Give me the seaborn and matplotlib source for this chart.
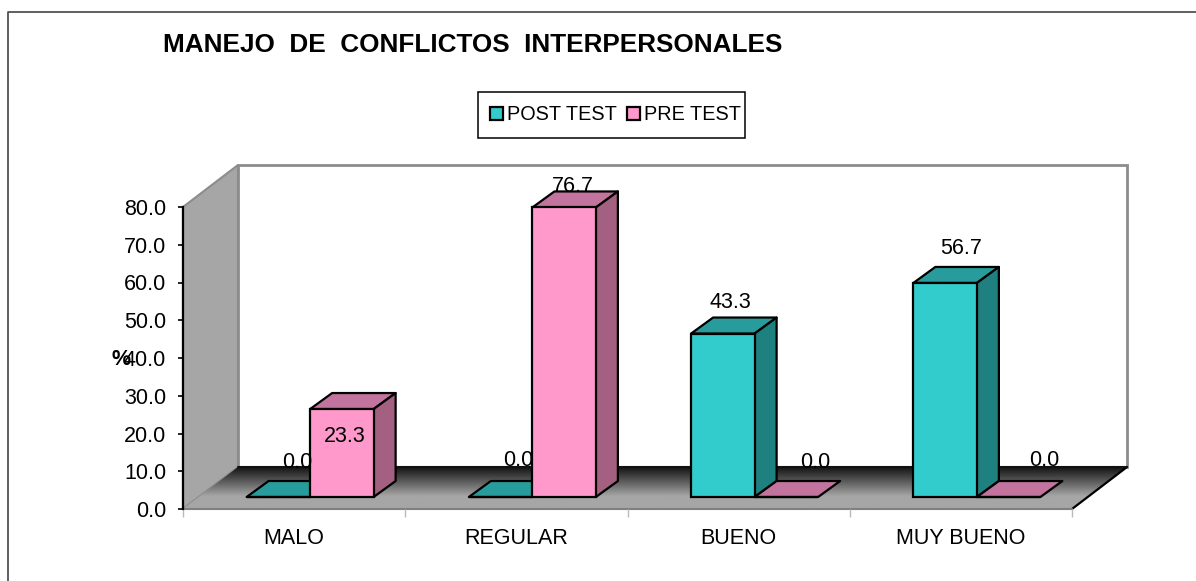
import numpy as np
import pandas as pd
import matplotlib
matplotlib.use("Agg")
import matplotlib.pyplot as plt
import seaborn as sns
from matplotlib.patches import Polygon, Rectangle
from matplotlib.transforms import IdentityTransform, Affine2D

categories = ["MALO", "REGULAR", "BUENO", "MUY BUENO"]
post_test = [0.0, 0.0, 43.3, 56.7]
pre_test = [23.3, 76.7, 0.0, 0.0]
series_names = ["POST TEST", "PRE TEST"]
y_ticks = [0, 10, 20, 30, 40, 50, 60, 70, 80]

W, H = 1196, 581
sns.set_theme(style="white")
plt.rcParams["font.family"] = ["Liberation Sans", "DejaVu Sans"]

face = {"POST TEST": "#33CCCC", "PRE TEST": "#FF99CC"}
top = {"POST TEST": "#289C9C", "PRE TEST": "#C2749E"}
side = {"POST TEST": "#1F8080", "PRE TEST": "#A36080"}
FS = 15.5

fig = plt.figure(figsize=(W / 100, H / 100), dpi=100, facecolor="white")

# pixel-space canvas for the chart frame, walls and floor
bg = fig.add_axes([0, 0, 1, 1], zorder=0)
bg.plot([8, 8, W], [H, 12, 12], color="#444444", lw=1.2, clip_on=False)
bg.add_patch(Polygon([(238, 165), (1127, 165), (1127, 467), (238, 467)], fc="white", ec="#8C8C8C", lw=2))
bg.add_patch(Polygon([(238, 165), (183, 207), (183, 509), (238, 467)], fc="#A6A6A6", ec="#8C8C8C", lw=1.5))
floor = Polygon([(238, 467), (1127, 467), (1072, 509), (183, 509)], fc="none", ec="none")
bg.add_patch(floor)
grad = np.clip(np.linspace(0.08, 0.9, 64), None, 0.65).reshape(-1, 1)
im = bg.imshow(grad, extent=(183, 1127, 509, 467), cmap="gray", vmin=0, vmax=1, aspect="auto", zorder=1)
im.set_clip_path(floor)
bg.set_xlim(0, W); bg.set_ylim(H, 0); bg.axis("off")
bg.plot([1127, 1072], [467, 509], color="black", lw=1.6, zorder=2)
bg.plot([183, 1072], [509, 509], color="#808080", lw=1.5, zorder=2)
bg.plot([238, 1127], [467, 467], color="#111111", lw=1.5, zorder=2)
bg.add_patch(Rectangle((478, 92), 267, 46, fc="white", ec="black", lw=1.1, zorder=2))

# chart axes, transparent, on the front plane
ax = fig.add_axes([183 / W, 1 - 509 / H, (1072 - 183) / W, (509 - 207) / H], zorder=1)
ax.patch.set_alpha(0)

df = pd.DataFrame({
    "cat": categories * 2,
    "serie": [series_names[0]] * 4 + [series_names[1]] * 4,
    "val": post_test + pre_test,
})
sns.barplot(data=df, x="cat", y="val", hue="serie", hue_order=series_names,
            palette=face, width=0.5715, gap=0, dodge=True, saturation=1,
            edgecolor="black", linewidth=1.6, ax=ax)
ax.set_xlim(-0.5, 3.5)
ax.set_ylim(0, 80)
ax.set_xlabel("")
ax.set_ylabel("%", rotation=0, fontsize=FS, fontweight="bold", color="black", va="center")
ax.yaxis.set_label_coords(-0.0695, 0.5 - 0.004)
fig.canvas.draw()

# extrude the seaborn bars into boxes: same shift and depth as the chart's 3D view
SHIFT = (16, 12)     # px, front plane of bars relative to the axis plane
DEPTH = (22, 16)     # px, box depth
to_px = ax.transData
shift = Affine2D().translate(*SHIFT)
for cont, name in zip(ax.containers, series_names):
    for bar in cont:
        x0, w, h = bar.get_x(), bar.get_width(), bar.get_height()
        (l, b), (r, t) = to_px.transform([(x0, 0), (x0 + w, h)])
        l += SHIFT[0]; r += SHIFT[0]; b += SHIFT[1]; t += SHIFT[1]
        dx, dy = DEPTH
        kw = dict(transform=IdentityTransform(), ec="black", lw=1.6, clip_on=False, joinstyle="round")
        ax.add_patch(Polygon([(l, t), (r, t), (r + dx, t + dy), (l + dx, t + dy)], fc=top[name], zorder=2, **kw))
        if h > 0:
            ax.add_patch(Polygon([(r, b), (r + dx, b + dy), (r + dx, t + dy), (r, t)], fc=side[name], zorder=2, **kw))
        bar.set_transform(to_px + shift)
        bar.set_clip_on(False)
        bar.set_zorder(3)

# data labels, offsets in px from the top centre of each bar's front face
label_offsets = {
    "POST TEST": [(19, 35), (18, 36), (8, 31), (16, 34)],
    "PRE TEST": [(3, -27), (9, 21), (29, 35), (36, 37)],
}
for cont, name, vals in zip(ax.containers, series_names, [post_test, pre_test]):
    for bar, v, off in zip(cont, vals, label_offsets[name]):
        cx = bar.get_x() + bar.get_width() / 2
        px, py = to_px.transform((cx, v))
        ax.text(px + SHIFT[0] + off[0], py + SHIFT[1] + off[1], f"{v:.1f}", transform=IdentityTransform(),
                ha="center", va="center", fontsize=FS, color="black", zorder=5, clip_on=False)

# axes styling
for s in ["top", "right", "bottom"]:
    ax.spines[s].set_visible(False)
ax.spines["left"].set_color("black"); ax.spines["left"].set_linewidth(1.6)
ax.set_yticks(y_ticks, [f"{t:.1f}" for t in y_ticks])
ax.tick_params(axis="y", length=3.6, width=1.2, color="black", labelsize=FS, labelcolor="black", pad=8.6, left=True)
ax.set_xticks(range(4), categories)
ax.tick_params(axis="x", which="major", length=0, labelsize=FS, labelcolor="black", pad=13.4)
ax.set_xticks(np.arange(-0.5, 4, 1), minor=True)
ax.tick_params(axis="x", which="minor", length=6, width=1, color="#BBBBBB", bottom=True)

# legend
handles, labels = ax.get_legend_handles_labels()
if ax.get_legend():
    ax.get_legend().remove()
leg = fig.legend(handles, labels, loc="center", bbox_to_anchor=(615.5 / W, 1 - 115 / H), ncol=2, fontsize=14.3,
                 frameon=False, labelcolor="black", handlelength=0.62, handleheight=0.62,
                 handletextpad=0.2, columnspacing=0.55, borderpad=0, borderaxespad=0)
leg.set_zorder(6)

fig.text(163 / W, 1 - 44.5 / H, "MANEJO  DE  CONFLICTOS  INTERPERSONALES", fontsize=18.8, fontweight="bold",
         ha="left", va="center", color="black")

fig.savefig("out.png", dpi=100)
